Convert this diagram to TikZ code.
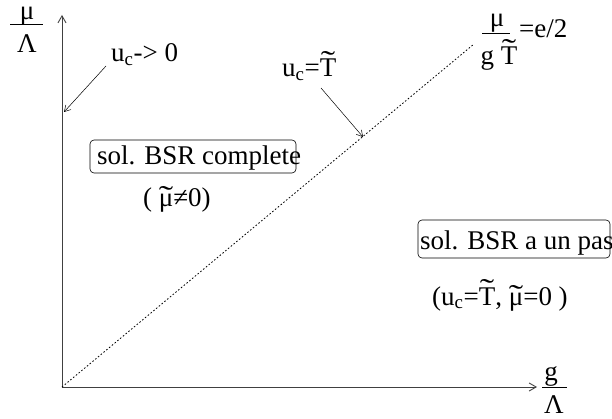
\documentclass[tikz,border=0pt]{standalone}
\usepackage{fontspec}
\usepackage{graphicx}
\setmainfont{Liberation Serif}
\usetikzlibrary{arrows.meta}
\newcommand\tildeon[2]{\ooalign{#2\cr\hidewidth\raisebox{#1}{\scalebox{1.6}[1.1]{\char"02DC}}\hidewidth\cr}}
\tikzset{
  lbl/.style={inner sep=0pt, anchor=base west, font=\fontsize{27}{30}\selectfont},
  lblc/.style={inner sep=0pt, anchor=base, font=\fontsize{27}{30}\selectfont},
  axis/.style={line width=0.9pt, black!75, -{Straight Barb[length=7pt,width=8pt]}},
  pointer/.style={line width=0.5pt, -{Straight Barb[length=6pt,width=7pt]}},
  fracbar/.style={line width=0.7pt},
  regbox/.style={draw, rounded corners=4pt, line width=0.6pt},
  border/.style={dash pattern=on 1.6pt off 2pt, line width=0.8pt}
}
\begin{document}
\begin{tikzpicture}[x=1pt,y=-1pt]
\useasboundingbox (0,0) rectangle (612,419);
% axes
\coordinate (O) at (62,387);
\coordinate (ytop) at (62,15);
\coordinate (xend) at (537,387);
\draw[axis] (O) -- (ytop);
\draw[axis] (O) -- (xend);
% dotted border
\coordinate (dend) at (474,44);
\draw[border] (O) -- (dend);
% y label
\node[lblc] (yn) at (27,20) {μ};
\node[lblc] (yd) at (27,53) {Λ};
\draw[fracbar] (10,24) -- (43,24);
% x label
\node[lblc] (xn) at (551,380) {g};
\node[lblc] (xd) at (554,413) {Λ};
\draw[fracbar] (542,387) -- (567,387);
% border label
\node[lblc] (bn) at (497,27) {μ};
\node[lblc] (bd) at (499,65) {g \tildeon{0.2em}{T}};
\draw[fracbar] (482,33) -- (510,33);
\node[lbl] (be) at (519,38) {=e/2};
% u_c -> 0
\node[lbl] (uc0) at (111,62) {u\textsubscript{c}-{}> 0};
\coordinate (uc0tip) at (64,112);
\draw[pointer] (106,66) -- (uc0tip);
% u_c = T
\node[lbl] (ucT) at (282,77) {u\textsubscript{c}=\tildeon{0.2em}{T}};
\coordinate (ucTtip) at (363,137);
\draw[pointer] (321,88) -- (ucTtip);
% regions
\draw[regbox] (90,140) rectangle (296,173);
\node[lbl] (r1) at (97,165) {sol. BSR complete};
\node[lbl] (r1c) at (143,207) {( \tildeon{0pt}{μ}≠0)};
\draw[regbox] (418,220) rectangle (610,258);
\node[lbl] (r2) at (420,250) {sol. BSR a un pas};
\node[lbl] (r2c) at (432,305) {(u\textsubscript{c}=\tildeon{0.2em}{T}, \tildeon{0pt}{μ}=0 )};
\end{tikzpicture}
\end{document}
